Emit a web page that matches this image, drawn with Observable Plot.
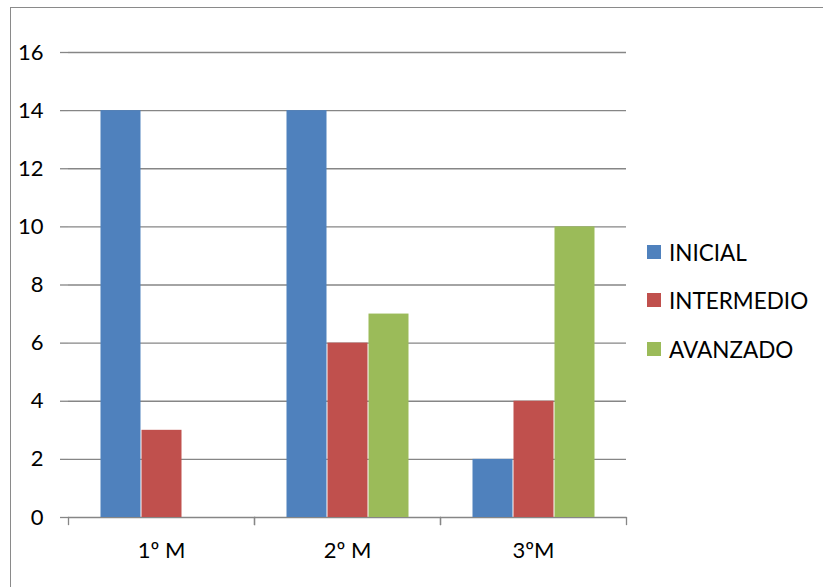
<!DOCTYPE html>
<html><head><meta charset="utf-8">
<script src="https://cdn.jsdelivr.net/npm/d3@7"></script>
<script src="https://cdn.jsdelivr.net/npm/@observablehq/plot@0.6"></script>
<style>
body{margin:0;background:#fff;}
#wrap{position:relative;width:823px;height:587px;overflow:hidden;font-family:Lato, "Open Sans", sans-serif;background:#fff;}
#chart{position:absolute;left:0;top:0;}
#border{position:absolute;left:10px;top:7px;width:900px;height:700px;border-top:1.5px solid #8a8a8a;border-left:1.5px solid #8a8a8a;}
#legend{position:absolute;left:647px;top:0;}
.row{position:absolute;left:0;display:flex;align-items:center;height:24px;white-space:nowrap;font-size:22.5px;color:#000;}
.sw{width:14px;height:14px;margin-right:8px;}
</style>
</head><body>
<div id="wrap"><div id="border"></div><div id="chart"></div><div id="legend"></div></div>
<script>
const categories = ["1º M", "2º M", "3ºM"];
const series = ["INICIAL", "INTERMEDIO", "AVANZADO"];
const inicial = [14, 14, 2];
const intermedio = [3, 6, 4];
const avanzado = [0, 7, 10];
const colors = ["#4F81BD", "#C0504D", "#9BBB59"];
const yTicks = [0, 2, 4, 6, 8, 10, 12, 14, 16];

const values = [inicial, intermedio, avanzado];
const data = categories.flatMap((c, i) => series.map((s, j) => ({cat: c, series: s, value: values[j][i]})));

const gray = "#868686";
const plot = Plot.plot({
  width: 823, height: 587,
  marginLeft: 68, marginRight: 197, marginTop: 52, marginBottom: 70,
  style: {fontFamily: "Lato, 'Open Sans', sans-serif", fontSize: "22px", color: "#000", background: "transparent"},
  fx: {domain: categories, padding: 0, label: null},
  x: {domain: series, paddingInner: 0, paddingOuter: 0.768, axis: null},
  y: {domain: [0, 16], label: null},
  color: {domain: series, range: colors},
  marks: [
    Plot.gridY(yTicks, {stroke: gray, strokeOpacity: 1, strokeWidth: 1.3}),
    Plot.barY(data, {fx: "cat", x: "series", y: "value", fill: "series", insetLeft: 0.5, insetRight: 0.5}),
    Plot.frame({anchor: "left", stroke: gray, strokeWidth: 1.3, insetTop: 465, insetBottom: -7}),
    Plot.frame({anchor: "right", stroke: gray, strokeWidth: 1.3, insetTop: 465, insetBottom: -7}),
    Plot.axisY(yTicks, {anchor: "left", tickSize: 8, tickPadding: 17, stroke: gray, strokeWidth: 1.3, strokeOpacity: 1, fill: "#000", fontSize: 22, label: null, line: true}),
    Plot.axisFx({anchor: "bottom", tickSize: 0, tickPadding: 25, fill: "#000", fontSize: 22, label: null})
  ]
});
document.getElementById("chart").appendChild(plot);

const centers = [252, 300, 349];
const leg = d3.select("#legend");
series.forEach((s, i) => {
  const r = leg.append("div").attr("class", "row").style("top", (centers[i] - 12) + "px");
  r.append("div").attr("class", "sw").style("background", colors[i]);
  r.append("span").text(s);
});
</script>
</body></html>
